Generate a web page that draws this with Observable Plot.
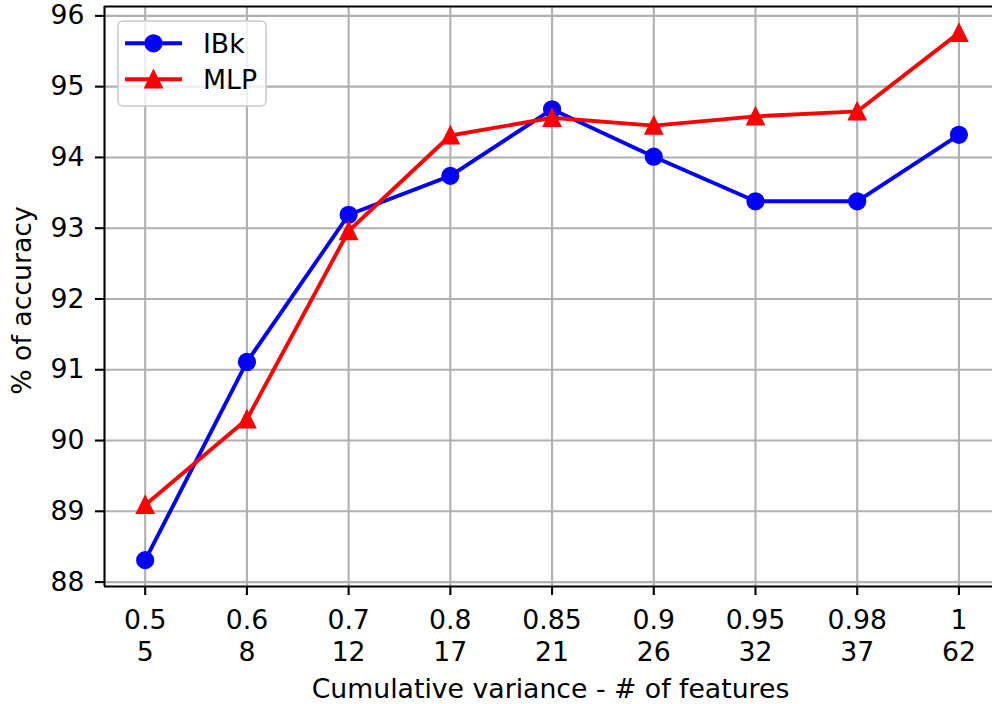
<!DOCTYPE html>
<html>
<head>
<meta charset="utf-8">
<script src="https://cdn.jsdelivr.net/npm/d3@7"></script>
<script src="https://cdn.jsdelivr.net/npm/@observablehq/plot@0.6"></script>
<style>
  body { margin: 0; background: #fff; }
  #chart svg { display: block; }
</style>
</head>
<body>
<div id="chart"></div>
<script>
// Cumulative variance retained and the number of features it corresponds to
const variance = ["0.5", "0.6", "0.7", "0.8", "0.85", "0.9", "0.95", "0.98", "1"];
const features = ["5", "8", "12", "17", "21", "26", "32", "37", "62"];

// Accuracy (%) of each classifier
const ibk = [88.31, 91.11, 93.19, 93.74, 94.68, 94.01, 93.38, 93.38, 94.32];
const mlp = [89.09, 90.30, 92.96, 94.31, 94.56, 94.45, 94.58, 94.65, 95.76];

const seriesNames = ["IBk", "MLP"];
const seriesColors = ["#0000ff", "#ff0000"];
const yTicks = [88, 89, 90, 91, 92, 93, 94, 95, 96];

const FONT = 26.7;
const GRID = "#b0b0b0";

// Long-format table for the line marks
const rows = [];
variance.forEach((v, i) => {
  rows.push({i, series: "IBk", value: ibk[i]});
  rows.push({i, series: "MLP", value: mlp[i]});
});

// 5% padding around the data on both axes; the right end of the axes is cut by the page
const all = ibk.concat(mlp);
const lo = d3.min(all), hi = d3.max(all), pad = (hi - lo) * 0.05;
const yDomain = [lo - pad, hi + pad];
const n = variance.length;
const xPad = (n - 1) * 0.05;
const xDomain = [-xPad, n - 1 + xPad - 0.07];

// Upward triangle centred on its bounding box
const triangleUp = {
  draw(ctx, size) {
    const r = Math.sqrt(size / Math.PI);
    ctx.moveTo(0, -r);
    ctx.lineTo(r, r);
    ctx.lineTo(-r, r);
    ctx.closePath();
  }
};

const chart = Plot.plot({
  width: 992,
  height: 704,
  marginLeft: 104,
  marginRight: 0,
  marginTop: 6,
  marginBottom: 118,
  style: {fontFamily: "'DejaVu Sans', sans-serif", fontSize: FONT + "px", color: "#000", background: "#fff"},
  x: {type: "linear", domain: xDomain},
  y: {domain: yDomain},
  color: {domain: seriesNames, range: seriesColors},
  marks: [
    // grid
    Plot.ruleX(d3.range(n), {stroke: GRID, strokeWidth: 2.1}),
    Plot.ruleY(yTicks, {stroke: GRID, strokeWidth: 2.1}),
    // series
    Plot.line(rows, {x: "i", y: "value", z: "series", stroke: "series", strokeWidth: 3.9}),
    Plot.dot(rows.filter(d => d.series === "IBk"), {x: "i", y: "value", r: 7.8, symbol: "circle", fill: "series", stroke: "series", strokeWidth: 2.6}),
    Plot.dot(rows.filter(d => d.series === "MLP"), {x: "i", y: "value", r: 7.8, symbol: triangleUp, fill: "series", stroke: "series", strokeWidth: 2.6}),
    // spines: left, bottom, top
    Plot.ruleX([xDomain[0]], {stroke: "#000", strokeWidth: 2.1}),
    Plot.ruleY(yDomain, {stroke: "#000", strokeWidth: 2.1}),
    // axes
    Plot.axisY(yTicks, {tickSize: 9, tickPadding: 11, strokeWidth: 2.1, label: null, fontSize: FONT, tickFormat: d => String(d)}),
    Plot.axisX(d3.range(n), {
      tickSize: 9, tickPadding: 10.3, strokeWidth: 2.1, label: null, fontSize: FONT,
      lineHeight: 1.2,
      tickFormat: i => variance[i] + "\n" + features[i]
    }),
    // axis titles
    Plot.text(["% of accuracy"], {text: d => d, frameAnchor: "left", textAnchor: "middle", rotate: -90, dx: -82.5, dy: 4, fontSize: FONT, fill: "#000"}),
    Plot.text(["Cumulative variance - # of features"], {text: d => d, frameAnchor: "bottom", textAnchor: "middle", lineAnchor: "bottom", dx: 2, dy: 111, fontSize: FONT, fill: "#000"})
  ]
});

document.getElementById("chart").appendChild(chart);

// Legend box in the upper-left corner of the axes
const svg = d3.select(chart);
const legend = svg.append("g").attr("transform", `translate(${104 + 14},${6 + 15})`);
legend.append("rect")
  .attr("x", 0).attr("y", 0).attr("width", 148).attr("height", 85).attr("rx", 5)
  .attr("fill", "#fff").attr("fill-opacity", 0.8)
  .attr("stroke", "#cccccc").attr("stroke-opacity", 0.8).attr("stroke-width", 2);
seriesNames.forEach((name, k) => {
  const y = 22.3 + k * 36;
  const g = legend.append("g").attr("transform", `translate(0,${y})`);
  g.append("line").attr("x1", 7).attr("x2", 64).attr("y1", 0).attr("y2", 0)
    .attr("stroke", seriesColors[k]).attr("stroke-width", 3.9);
  if (k === 0) {
    g.append("circle").attr("cx", 35.5).attr("cy", 0).attr("r", 7.8)
      .attr("fill", seriesColors[k]).attr("stroke", seriesColors[k]).attr("stroke-width", 2.6);
  } else {
    g.append("path").attr("transform", "translate(35.5,0)").attr("d", "M0,-7.8L7.8,7.8L-7.8,7.8Z")
      .attr("fill", seriesColors[k]).attr("stroke", seriesColors[k]).attr("stroke-width", 2.6);
  }
  g.append("text").attr("x", 85).attr("y", 9.6).attr("text-anchor", "start")
    .attr("font-size", FONT).attr("fill", "#000").text(name);
});
</script>
</body>
</html>
